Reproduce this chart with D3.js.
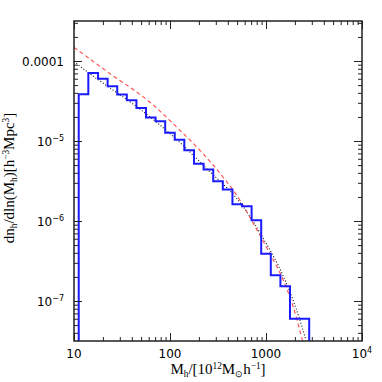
<!DOCTYPE html>
<html>
<head>
<meta charset="utf-8">
<script src="https://cdn.jsdelivr.net/npm/d3@7"></script>
<style>
body { margin: 0; background: #fff; }
text { fill: #000; }
</style>
</head>
<body>
<svg id="chart" width="382" height="382"></svg>
<script>
// halo mass bins (10^12 Msun/h) and measured dn/dlnM
const binEdges = [11.2, 14.1, 17.8, 22.4, 28.2, 35.5, 44.7, 56.2, 70.8, 89.1, 112, 141,
	178, 224, 282, 355, 447, 562, 708, 891, 1122, 1413, 1778, 2818];
const binValues = [3.84e-5, 7.1e-5, 6.0e-5, 4.83e-5, 3.8e-5, 3.22e-5, 2.59e-5, 1.96e-5,
	1.76e-5, 1.27e-5, 1.04e-5, 7.65e-6, 5.2e-6, 4.39e-6, 3.13e-6, 2.47e-6, 1.62e-6,
	1.53e-6, 1.02e-6, 3.9e-7, 2.1e-7, 1.53e-7, 6.0e-8];

// red dashed model
const redMass = [10, 23.7, 61.9, 127, 205, 356, 536, 738, 1100, 1514, 1923, 2400];
const redValues = [1.48e-4, 6.96e-5, 3.05e-5, 1.36e-5, 7.65e-6, 3.55e-6, 1.82e-6,
	9.3e-7, 3.9e-7, 1.82e-7, 8.4e-8, 3.2e-8];

// black dotted model
const dotMass = [10, 11.5, 61.9, 100, 241, 581, 908, 1514, 2089, 2612];
const dotValues = [9.9e-5, 8.66e-5, 2.0e-5, 1.24e-5, 4.52e-6, 1.5e-6, 6.44e-7,
	2.04e-7, 7.65e-8, 3.23e-8];

const xMajor = [10, 100, 1000, 10000];
const xLabels = [["10", ""], ["100", ""], ["1000", ""], ["10", "4"]];
const yMajor = [1e-4, 1e-5, 1e-6, 1e-7];
const yLabels = [["0.0001", ""], ["10", "\u22125"], ["10", "\u22126"], ["10", "\u22127"]];

const pLeft = 74, pRight = 362, pTop = 21, pBottom = 341;

let svg = d3.select("#chart");

let x = d3.scaleLog().domain([10, 1e4]).range([pLeft, pRight]);
let y = d3.scaleLog().domain([Math.pow(10, -7.5), Math.pow(10, -3.5)]).range([pBottom, pTop]);

svg.append("clipPath").attr("id", "clip")
	.append("rect")
	.attr("x", pLeft).attr("y", pTop)
	.attr("width", pRight - pLeft).attr("height", pBottom - pTop);

let plot = svg.append("g").attr("clip-path", "url(#clip)");

//Model curves
let curve = d3.line()
	.x(d => x(d[0]))
	.y(d => y(d[1]))
	.curve(d3.curveMonotoneX);

plot.append("path")
	.datum(dotMass.map((m, i) => [m, dotValues[i]]))
	.attr("d", curve)
	.attr("fill", "none")
	.attr("stroke", "#111")
	.attr("stroke-width", 1.1)
	.attr("stroke-dasharray", "1,2");

plot.append("path")
	.datum(redMass.map((m, i) => [m, redValues[i]]))
	.attr("d", curve)
	.attr("fill", "none")
	.attr("stroke", "#ff4a4a")
	.attr("stroke-width", 1.1)
	.attr("stroke-dasharray", "4,3");

//Histogram
let histPts = [[binEdges[0], 1e-9]];
for (let i = 0; i < binValues.length; i++) {
	histPts.push([binEdges[i], binValues[i]]);
}
histPts.push([binEdges[binEdges.length - 1], binValues[binValues.length - 1]]);
histPts.push([binEdges[binEdges.length - 1], 1e-9]);

plot.append("path")
	.datum(histPts)
	.attr("d", d3.line().x(d => x(d[0])).y(d => y(d[1])).curve(d3.curveStepAfter))
	.attr("fill", "none")
	.attr("stroke", "#1a1aff")
	.attr("stroke-width", 2);

//Ticks (all four sides, pointing in)
let xMinor = x.ticks().filter(v => xMajor.indexOf(v) < 0);
let yMinor = y.ticks().filter(v => yMajor.every(m => Math.abs(v / m - 1) > 1e-6));

function addAxis(axis, tr) {
	svg.append("g")
		.attr("transform", tr)
		.call(axis)
		.call(g => g.select(".domain").remove())
		.call(g => g.selectAll("line").attr("stroke", "#222").attr("stroke-width", 1));
}
addAxis(d3.axisBottom(x).tickValues(xMajor).tickSize(-8).tickFormat(""), `translate(0,${pBottom})`);
addAxis(d3.axisBottom(x).tickValues(xMinor).tickSize(-4).tickFormat(""), `translate(0,${pBottom})`);
addAxis(d3.axisTop(x).tickValues(xMajor).tickSize(-8).tickFormat(""), `translate(0,${pTop})`);
addAxis(d3.axisTop(x).tickValues(xMinor).tickSize(-4).tickFormat(""), `translate(0,${pTop})`);
addAxis(d3.axisLeft(y).tickValues(yMajor).tickSize(-8).tickFormat(""), `translate(${pLeft},0)`);
addAxis(d3.axisLeft(y).tickValues(yMinor).tickSize(-4).tickFormat(""), `translate(${pLeft},0)`);
addAxis(d3.axisRight(y).tickValues(yMajor).tickSize(-8).tickFormat(""), `translate(${pRight},0)`);
addAxis(d3.axisRight(y).tickValues(yMinor).tickSize(-4).tickFormat(""), `translate(${pRight},0)`);

//Frame
svg.append("rect")
	.attr("x", pLeft).attr("y", pTop)
	.attr("width", pRight - pLeft).attr("height", pBottom - pTop)
	.attr("fill", "none")
	.attr("stroke", "#222")
	.attr("stroke-width", 1.5);

//Tick labels
let xl = svg.append("g")
	.style("font-family", "'DejaVu Sans', sans-serif")
	.style("font-size", "12px");
xMajor.forEach((v, i) => {
	let t = xl.append("text")
		.attr("x", x(v)).attr("y", pBottom + 16.5)
		.attr("text-anchor", "middle");
	t.append("tspan").text(xLabels[i][0]);
	if (xLabels[i][1]) {
		t.append("tspan").attr("dy", -5).style("font-size", "8px").text(xLabels[i][1]);
	}
});
yMajor.forEach((v, i) => {
	let t = xl.append("text")
		.attr("x", 64).attr("y", y(v) + 5)
		.attr("text-anchor", "end");
	t.append("tspan").text(yLabels[i][0]);
	if (yLabels[i][1]) {
		t.append("tspan").attr("dy", -5).style("font-size", "8px").text(yLabels[i][1]);
	}
});

//Axis titles
function piece(t, s, shift, small) {
	let sp = t.append("tspan").text(s);
	if (shift) sp.attr("dy", shift);
	if (small) sp.attr("class", "small");
	return sp;
}
// scale the title so it spans about as far as in the reference
function fit(t, size, target) {
	t.style("font-size", size + "px");
	t.selectAll(".small").style("font-size", (size * 0.62) + "px");
	let w = t.node().getComputedTextLength();
	let s = size * target / w;
	s = Math.min(s, 15);
	t.style("font-size", s + "px");
	t.selectAll(".small").style("font-size", (s * 0.62) + "px");
}

let xt = svg.append("text")
	.attr("x", 218).attr("y", 373.5)
	.attr("text-anchor", "middle")
	.style("font-family", "'Liberation Serif', serif");
piece(xt, "M");
piece(xt, "h", 3, true);
piece(xt, "/[10", -3);
piece(xt, "12", -4.5, true);
piece(xt, "M", 4.5);
piece(xt, "\u2299", 3, true);
piece(xt, "h", -3);
piece(xt, "\u22121", -4.5, true);
piece(xt, "]", 4.5);
fit(xt, 14, 104);

let yt = svg.append("text")
	.attr("transform", "translate(14,178) rotate(-90)")
	.attr("text-anchor", "middle")
	.style("font-family", "'Liberation Serif', serif");
piece(yt, "dn");
piece(yt, "h", 3, true);
piece(yt, "/dln(M", -3);
piece(yt, "h", 3, true);
piece(yt, ")[h", -3);
piece(yt, "\u22123", -5, true);
piece(yt, "Mpc", 5);
piece(yt, "3", -5, true);
piece(yt, "]", 5);
fit(yt, 14, 146);
</script>
</body>
</html>
